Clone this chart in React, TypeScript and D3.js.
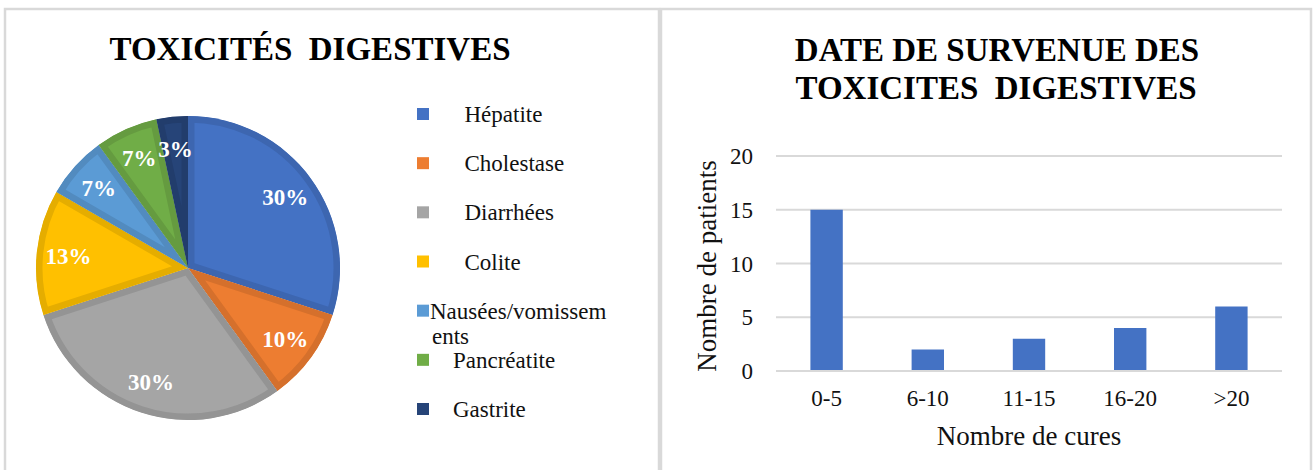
import React, { useEffect, useRef } from 'react';
import * as d3 from 'd3';

// pie data (counts, 30 patients)
const PIE_LABELS = ['      Hépatite', '      Cholestase', '      Diarrhées', '      Colite', 'Nausées/vomissements', '    Pancréatite', '    Gastrite'];
const PIE_VALUES = [9, 3, 9, 4, 2, 2, 1];
const PIE_COLORS = ['#4472C4', '#ED7D31', '#A5A5A5', '#FFC000', '#5B9BD5', '#70AD47', '#264478'];

// bar data
const BAR_CATS = ['0-5', '6-10', '11-15', '16-20', '>20'];
const BAR_VALUES = [15, 2, 3, 4, 6];
const Y_TICKS = [0, 5, 10, 15, 20];

const W = 1314;
const H = 470;
const FONT = '"Liberation Serif", "Times New Roman", serif';

export default function App() {
  const svgRef = useRef<SVGSVGElement>(null);

  useEffect(() => {
    const svg = d3.select(svgRef.current);
    svg.selectAll('*').remove();

    // panel borders
    svg.append('rect').attr('x', 5).attr('y', 9).attr('width', 654).attr('height', 480)
      .attr('fill', 'white').attr('stroke', '#D9D9D9').attr('stroke-width', 2.5);
    svg.append('rect').attr('x', 661).attr('y', 9).attr('width', 650).attr('height', 480)
      .attr('fill', 'white').attr('stroke', '#D9D9D9').attr('stroke-width', 2.5);

    // ---------- pie ----------
    svg.append('text')
      .attr('x', 310).attr('y', 60)
      .attr('text-anchor', 'middle')
      .style('font-family', FONT).style('font-size', '33px').style('font-weight', 700)
      .style('white-space', 'pre')
      .text('TOXICITÉS  DIGESTIVES');

    const R = 152;
    const cx = 188, cy = 268;
    const total = d3.sum(PIE_VALUES);
    const pie = d3.pie<number>().sort(null).value(d => d);
    const arcs = pie(PIE_VALUES);
    const arc = d3.arc<d3.PieArcDatum<number>>().innerRadius(0).outerRadius(R);
    const labelArc = d3.arc<d3.PieArcDatum<number>>().innerRadius(R * 0.79).outerRadius(R * 0.79);

    const gp = svg.append('g').attr('transform', `translate(${cx},${cy})`);
    const defs = svg.append('defs');
    arcs.forEach((a, i) => {
      defs.append('clipPath').attr('id', `slice-${i}`)
        .append('path').attr('d', arc(a) as string);
      gp.append('path')
        .attr('d', arc(a) as string)
        .attr('fill', PIE_COLORS[i])
        .attr('stroke', d3.color(PIE_COLORS[i])!.darker(0.3).formatHex())
        .attr('stroke-width', 13)
        .attr('stroke-linejoin', 'miter')
        .attr('clip-path', `url(#slice-${i})`);
    });
    arcs.forEach((a, i) => {
      const [lx, ly] = labelArc.centroid(a);
      gp.append('text')
        .attr('x', lx).attr('y', ly)
        .attr('text-anchor', 'middle')
        .attr('dy', '0.35em')
        .style('font-family', FONT).style('font-size', '23px').style('font-weight', 700)
        .attr('fill', 'white')
        .text(`${Math.round((PIE_VALUES[i] / total) * 100)}%`);
    });

    // legend
    const legendY = d3.scalePoint<string>().domain(PIE_LABELS).range([114, 409]);
    PIE_LABELS.forEach((lab, i) => {
      const y = legendY(lab)!;
      svg.append('rect').attr('x', 417).attr('y', y - 6).attr('width', 12).attr('height', 12)
        .attr('fill', PIE_COLORS[i]);
      const lines = lab.length > 16 && lab.trim() === lab ? [lab.slice(0, 16), lab.slice(16)] : [lab];
      const t = svg.append('text')
        .attr('x', 430).attr('y', y + 8)
        .style('font-family', FONT).style('font-size', '23px')
        .style('white-space', 'pre')
        .attr('fill', '#111');
      lines.forEach((ln, j) => {
        t.append('tspan').attr('x', j === 0 ? 430 : 432).attr('dy', j === 0 ? 0 : 25).text(ln);
      });
    });

    // ---------- bars ----------
    const title2 = svg.append('text')
      .attr('text-anchor', 'middle')
      .style('font-family', FONT).style('font-size', '33px').style('font-weight', 700)
      .style('white-space', 'pre');
    title2.append('tspan').attr('x', 997).attr('y', 61).text('DATE DE SURVENUE DES');
    title2.append('tspan').attr('x', 996).attr('y', 99).text('TOXICITES  DIGESTIVES');

    const x = d3.scaleBand<string>().domain(BAR_CATS).range([776, 1282]).paddingInner(0.68).paddingOuter(0.34);
    const y = d3.scaleLinear().domain([0, 20]).range([371, 156]);

    Y_TICKS.forEach(t => {
      svg.append('line')
        .attr('x1', 776).attr('x2', 1282)
        .attr('y1', y(t)).attr('y2', y(t))
        .attr('stroke', '#D9D9D9').attr('stroke-width', 2);
      svg.append('text')
        .attr('x', 753).attr('y', y(t) + 8)
        .attr('text-anchor', 'end')
        .style('font-family', FONT).style('font-size', '23px')
        .attr('fill', '#111')
        .text(t);
    });

    svg.selectAll('rect.bar')
      .data(BAR_VALUES)
      .join('rect')
      .attr('class', 'bar')
      .attr('x', (_, i) => x(BAR_CATS[i])!)
      .attr('width', x.bandwidth())
      .attr('y', d => y(d))
      .attr('height', d => y(0) - y(d) - 1)
      .attr('fill', '#4472C4');

    BAR_CATS.forEach(c => {
      svg.append('text')
        .attr('x', x(c)! + x.bandwidth() / 2).attr('y', 406)
        .attr('text-anchor', 'middle')
        .style('font-family', FONT).style('font-size', '23px')
        .attr('fill', '#111')
        .text(c);
    });

    svg.append('text')
      .attr('x', 1029).attr('y', 445)
      .attr('text-anchor', 'middle')
      .style('font-family', FONT).style('font-size', '27px')
      .attr('fill', '#111')
      .text('Nombre de cures');

    svg.append('text')
      .attr('transform', `translate(716,266) rotate(-90)`)
      .attr('text-anchor', 'middle')
      .style('font-family', FONT).style('font-size', '27px')
      .attr('fill', '#111')
      .text('Nombre de patients');
  }, []);

  return (
    <svg ref={svgRef} width={W} height={H}
      style={{ position: 'absolute', left: 0, top: 0, background: 'white' }} />
  );
}
